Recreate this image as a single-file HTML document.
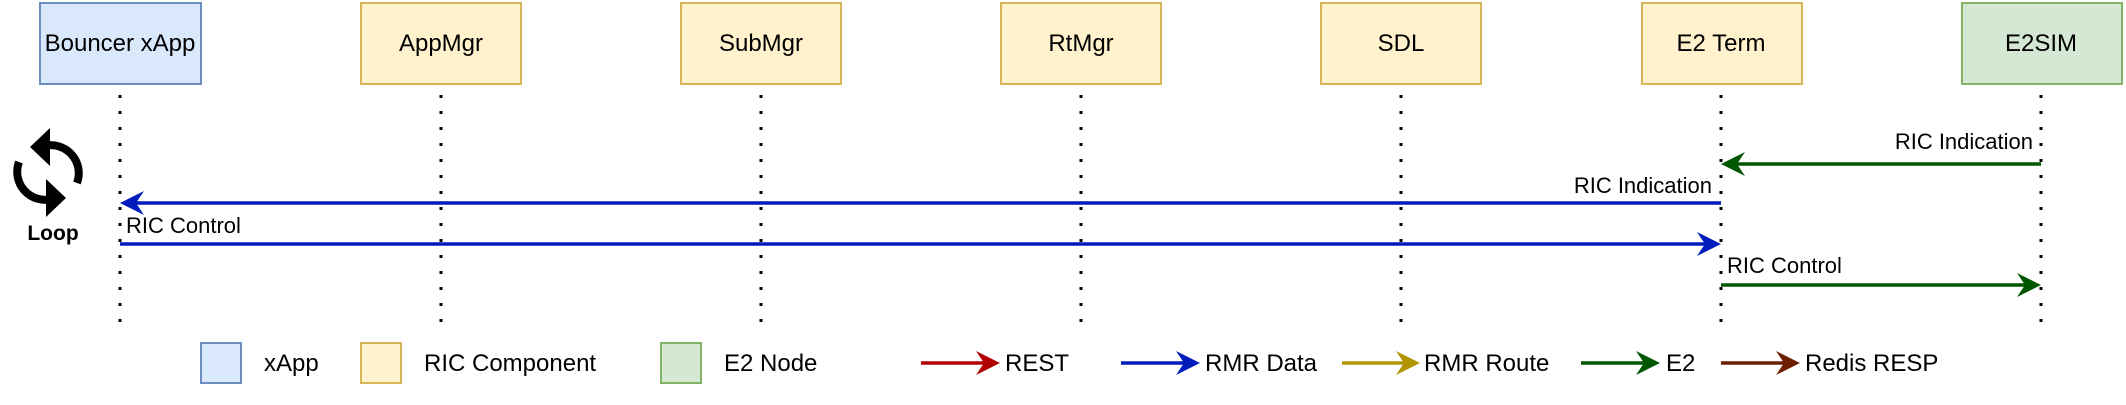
<!DOCTYPE html>
<html><head><meta charset="utf-8"><style>
body{margin:0;background:#fff;}
svg text{font-family:"Liberation Sans",sans-serif;}
</style></head><body>
<svg width="2126" height="400" viewBox="0 0 2126 400" xmlns="http://www.w3.org/2000/svg">
<g font-size="24" text-anchor="middle">
<rect x="40" y="3" width="161" height="81" fill="#dae8fc" stroke="#6c8ebf" stroke-width="2"/>
<text x="120" y="51">Bouncer xApp</text>
<rect x="361" y="3" width="160" height="81" fill="#fff2cc" stroke="#d6b656" stroke-width="2"/>
<text x="441" y="51">AppMgr</text>
<rect x="681" y="3" width="160" height="81" fill="#fff2cc" stroke="#d6b656" stroke-width="2"/>
<text x="761" y="51">SubMgr</text>
<rect x="1001" y="3" width="160" height="81" fill="#fff2cc" stroke="#d6b656" stroke-width="2"/>
<text x="1081" y="51">RtMgr</text>
<rect x="1321" y="3" width="160" height="81" fill="#fff2cc" stroke="#d6b656" stroke-width="2"/>
<text x="1401" y="51">SDL</text>
<rect x="1642" y="3" width="160" height="81" fill="#fff2cc" stroke="#d6b656" stroke-width="2"/>
<text x="1721" y="51">E2 Term</text>
<rect x="1962" y="3" width="160" height="81" fill="#d5e8d4" stroke="#82b366" stroke-width="2"/>
<text x="2041" y="51">E2SIM</text>
</g>
<g stroke="#000" stroke-width="3" stroke-dasharray="3 13">
<line x1="120" y1="95" x2="120" y2="326"/>
<line x1="441" y1="95" x2="441" y2="326"/>
<line x1="761" y1="95" x2="761" y2="326"/>
<line x1="1081" y1="95" x2="1081" y2="326"/>
<line x1="1401" y1="95" x2="1401" y2="326"/>
<line x1="1721" y1="95" x2="1721" y2="326"/>
<line x1="2041" y1="95" x2="2041" y2="326"/>
</g>
<g stroke-width="3.5" fill="none">
<line x1="2041" y1="164" x2="1735" y2="164" stroke="#005700"/>
<line x1="1721" y1="203" x2="135" y2="203" stroke="#001DBC"/>
<line x1="120" y1="244" x2="1706" y2="244" stroke="#001DBC"/>
<line x1="1721" y1="285" x2="2026" y2="285" stroke="#005700"/>
</g>
<polygon points="1721,164 1745,152 1737,164 1745,176" fill="#005700"/>
<polygon points="120,203 144,191 136,203 144,215" fill="#001DBC"/>
<polygon points="1721,244 1697,232 1705,244 1697,256" fill="#001DBC"/>
<polygon points="2041,285 2017,273 2025,285 2017,297" fill="#005700"/>
<g font-size="22">
<text x="2033" y="149" text-anchor="end">RIC Indication</text>
<text x="1712" y="193" text-anchor="end">RIC Indication</text>
<text x="126" y="233">RIC Control</text>
<text x="1727" y="273">RIC Control</text>
</g>
<g fill="none" stroke="#000" stroke-width="8">
<path d="M 44 146 A 28 28 0 0 1 77 183"/>
<path d="M 52 199 A 28 28 0 0 1 19 162"/>
</g>
<polygon points="30,147 50,128 50,166" fill="#000"/>
<polygon points="66,198 46,179 46,217" fill="#000"/>
<text x="53" y="240" font-size="21" font-weight="bold" text-anchor="middle">Loop</text>
<rect x="201" y="343" width="40" height="40" fill="#dae8fc" stroke="#6c8ebf" stroke-width="2"/>
<text x="264" y="371" font-size="24">xApp</text>
<rect x="361" y="343" width="40" height="40" fill="#fff2cc" stroke="#d6b656" stroke-width="2"/>
<text x="424" y="371" font-size="24">RIC Component</text>
<rect x="661" y="343" width="40" height="40" fill="#d5e8d4" stroke="#82b366" stroke-width="2"/>
<text x="724" y="371" font-size="24">E2 Node</text>
<g stroke-width="3.5">
<line x1="921" y1="363" x2="985" y2="363" stroke="#B20000"/>
<line x1="1121" y1="363" x2="1185" y2="363" stroke="#001DBC"/>
<line x1="1342" y1="363" x2="1405" y2="363" stroke="#B09500"/>
<line x1="1581" y1="363" x2="1645" y2="363" stroke="#005700"/>
<line x1="1721" y1="363" x2="1785" y2="363" stroke="#6D1F00"/>
</g>
<polygon points="1000,363 976,351 984,363 976,375" fill="#B20000"/>
<polygon points="1200,363 1176,351 1184,363 1176,375" fill="#001DBC"/>
<polygon points="1420,363 1396,351 1404,363 1396,375" fill="#B09500"/>
<polygon points="1660,363 1636,351 1644,363 1636,375" fill="#005700"/>
<polygon points="1800,363 1776,351 1784,363 1776,375" fill="#6D1F00"/>
<g font-size="24">
<text x="1005" y="371">REST</text>
<text x="1205" y="371">RMR Data</text>
<text x="1424" y="371">RMR Route</text>
<text x="1666" y="371">E2</text>
<text x="1805" y="371">Redis RESP</text>
</g>
</svg>
</body></html>
